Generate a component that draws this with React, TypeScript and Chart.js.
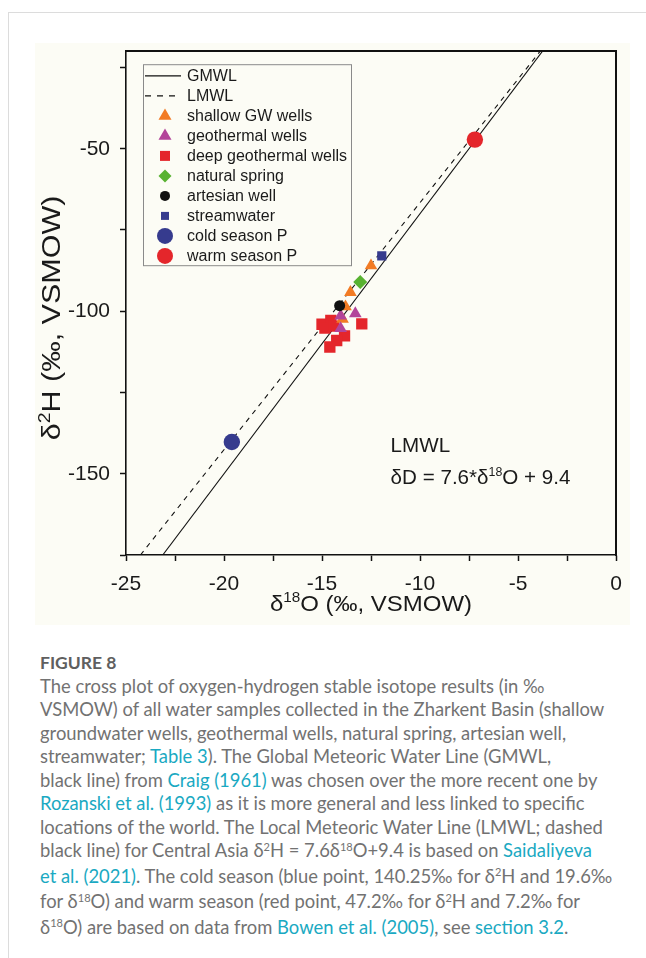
import React, { useEffect, useRef } from 'react';
import { Chart, registerables } from 'chart.js';

Chart.register(...registerables);

const FONT = '"Liberation Sans", Arial, sans-serif';

// ---- data (δ18O, δ2H in ‰ VSMOW) ----
const shallowO = [-12.5, -13.55, -13.8, -13.95];
const shallowH = [-86.0, -94.2, -98.6, -102.4];
const geoO = [-13.3, -14.05, -14.05];
const geoH = [-100.7, -101.4, -105.3];
const deepO = [-15.0, -14.55, -14.85, -14.4, -12.97, -13.85, -14.25, -14.6];
const deepH = [-104.0, -102.8, -105.2, -104.6, -103.9, -107.6, -109.0, -111.0];
const springO = [-13.05];
const springH = [-91.0];
const artesianO = [-14.1];
const artesianH = [-98.3];
const streamO = [-11.95];
const streamH = [-83.0];
const coldO = [-19.6];
const coldH = [-140.25];
const warmO = [-7.2];
const warmH = [-47.2];
const gmwlO = [-23.125, -3.75];
const gmwlH = [-175, -20];
const lmwlO = [-24.263, -3.868];
const lmwlH = [-175, -20];

// axes
const X_MIN = -25;
const X_MAX = 0;
const X_STEP = 2.5;
const X_LABEL_EVERY = 5;
const Y_MIN = -175;
const Y_MAX = -20;
const Y_STEP = 25;
const Y_LABEL_EVERY = 50;

// annotation anchor (data units)
const annotX = -11.5;
const annotY1 = -143.2;
const annotY2 = -153.3;

const ORANGE = '#f27b24';
const PURPLE = '#b3449a';
const RED = '#e4262b';
const GREEN = '#58b231';
const BLACK = '#111111';
const NAVY = '#363b8e';

type LegendItem = { label: string; kind: string; color: string; size: number };
const legendItems: LegendItem[] = [
  { label: 'GMWL', kind: 'line', color: BLACK, size: 0 },
  { label: 'LMWL', kind: 'dash', color: BLACK, size: 0 },
  { label: 'shallow GW wells', kind: 'triangle', color: ORANGE, size: 13 },
  { label: 'geothermal wells', kind: 'triangle', color: PURPLE, size: 13 },
  { label: 'deep geothermal wells', kind: 'square', color: RED, size: 10 },
  { label: 'natural spring', kind: 'diamond', color: GREEN, size: 13 },
  { label: 'artesian well', kind: 'circle', color: BLACK, size: 10 },
  { label: 'streamwater', kind: 'square', color: NAVY, size: 8 },
  { label: 'cold season P', kind: 'circle', color: NAVY, size: 16 },
  { label: 'warm season P', kind: 'circle', color: RED, size: 16 },
];

const toPts = (xs: number[], ys: number[]) => xs.map((x, i) => ({ x, y: ys[i] }));

const pointDs = (label: string, xs: number[], ys: number[], style: string, radius: number, color: string, order: number) => ({
  label,
  data: toPts(xs, ys),
  pointStyle: style,
  pointRadius: radius,
  pointHoverRadius: radius,
  backgroundColor: color,
  borderColor: color,
  borderWidth: 0,
  showLine: false,
  order,
});

type Part = [string, boolean];
function drawRich(ctx: CanvasRenderingContext2D, parts: Part[], x: number, y: number, size: number, align: string, stretch = 1) {
  const supSize = Math.round(size * 0.62);
  const widths = parts.map(([t, sup]) => {
    ctx.font = `${sup ? supSize : size}px ${FONT}`;
    return ctx.measureText(t).width;
  });
  const total = widths.reduce((a, b) => a + b, 0);
  ctx.save();
  ctx.translate(x, y);
  ctx.scale(stretch, 1);
  let cx = align === 'center' ? -total / 2 : 0;
  ctx.textAlign = 'left';
  ctx.textBaseline = 'alphabetic';
  parts.forEach(([t, sup], i) => {
    ctx.font = `${sup ? supSize : size}px ${FONT}`;
    ctx.fillText(t, cx, sup ? -size * 0.4 : 0);
    cx += widths[i];
  });
  ctx.restore();
}

function drawMarker(ctx: CanvasRenderingContext2D, kind: string, x: number, y: number, size: number, color: string) {
  ctx.fillStyle = color;
  ctx.beginPath();
  const h = size / 2;
  if (kind === 'triangle') {
    const r = size / Math.sqrt(3);
    ctx.moveTo(x, y - r);
    ctx.lineTo(x + h, y + r / 2);
    ctx.lineTo(x - h, y + r / 2);
    ctx.closePath();
  } else if (kind === 'square') {
    ctx.rect(x - h, y - h, size, size);
  } else if (kind === 'diamond') {
    ctx.moveTo(x, y - h);
    ctx.lineTo(x + h, y);
    ctx.lineTo(x, y + h);
    ctx.lineTo(x - h, y);
    ctx.closePath();
  } else {
    ctx.arc(x, y, h, 0, Math.PI * 2);
  }
  ctx.fill();
}

const overlayPlugin = {
  id: 'overlay',
  afterDraw(chart: any) {
    const { ctx, chartArea, scales } = chart;
    const left = chartArea.left;
    const top = chartArea.top;
    const right = chartArea.right;
    const bottom = chartArea.bottom;
    ctx.save();
    ctx.setLineDash([]);
    // plot frame (top and right edges)
    ctx.fillStyle = '#111';
    ctx.fillRect(Math.round(left) - 1, Math.round(top) - 1, Math.round(right - left) + 2, 2);
    ctx.fillRect(Math.round(right) - 1, Math.round(top) - 1, 2, Math.round(bottom - top) + 2);

    // legend
    const bx = left + 17;
    const by = top + 13;
    const bw = 208;
    const bh = 201;
    ctx.fillStyle = '#fcfcf5';
    ctx.fillRect(bx, by, bw, bh);
    ctx.strokeStyle = '#8a8a8a';
    ctx.lineWidth = 1;
    ctx.strokeRect(bx + 0.5, by + 0.5, bw, bh);
    legendItems.forEach((it, i) => {
      const cy = by + 11.7 + i * 20;
      if (it.kind === 'line' || it.kind === 'dash') {
        ctx.strokeStyle = it.color;
        ctx.lineWidth = 1.2;
        ctx.setLineDash(it.kind === 'dash' ? [6, 6] : []);
        ctx.beginPath();
        ctx.moveTo(bx + 2, cy);
        ctx.lineTo(bx + 38, cy);
        ctx.stroke();
        ctx.setLineDash([]);
      } else {
        drawMarker(ctx, it.kind, bx + 22, cy, it.size, it.color);
      }
      ctx.fillStyle = '#1a1a1a';
      ctx.font = `16px ${FONT}`;
      ctx.textAlign = 'left';
      ctx.textBaseline = 'middle';
      ctx.fillText(it.label, bx + 44, cy + 0.5);
    });

    // annotation
    const ax = scales.x.getPixelForValue(annotX);
    ctx.fillStyle = '#1a1a1a';
    drawRich(ctx, [['LMWL', false]], ax, scales.y.getPixelForValue(annotY1), 20, 'left', 1.03);
    drawRich(ctx, [['δD = 7.6*δ', false], ['18', true], ['O + 9.4', false]], ax, scales.y.getPixelForValue(annotY2), 20, 'left', 1.03);

    // axis titles
    ctx.fillStyle = '#1a1a1a';
    drawRich(ctx, [['δ', false], ['18', true], ['O (‰, VSMOW)', false]], (left + right) / 2, bottom + 56, 22, 'center', 1.09);
    ctx.save();
    ctx.translate(left - 66, 275);
    ctx.rotate(-Math.PI / 2);
    drawRich(ctx, [['δ', false], ['2', true], ['H (‰, VSMOW)', false]], 0, 0, 25, 'center', 1.22);
    ctx.restore();
    ctx.restore();
  },
};

function ChartCanvas() {
  const ref = useRef<HTMLCanvasElement | null>(null);
  useEffect(() => {
    if (!ref.current) return;
    const tickFont = { size: 21, family: FONT };
    const chart = new Chart(ref.current, {
      type: 'scatter',
      data: {
        datasets: [
          pointDs('warm season P', warmO, warmH, 'circle', 8.2, RED, 0),
          pointDs('cold season P', coldO, coldH, 'circle', 8.2, NAVY, 1),
          pointDs('streamwater', streamO, streamH, 'rect', 6.5, NAVY, 2),
          pointDs('artesian well', artesianO, artesianH, 'circle', 5.5, BLACK, 3),
          pointDs('natural spring', springO, springH, 'rectRot', 7, GREEN, 4),
          pointDs('geothermal wells', geoO, geoH, 'triangle', 7.3, PURPLE, 5),
          pointDs('shallow GW wells', shallowO, shallowH, 'triangle', 7.3, ORANGE, 6),
          pointDs('deep geothermal wells', deepO, deepH, 'rect', 8, RED, 7),
          {
            label: 'GMWL',
            data: toPts(gmwlO, gmwlH),
            showLine: true,
            pointRadius: 0,
            borderColor: BLACK,
            borderWidth: 1.1,
            order: 8,
          },
          {
            label: 'LMWL',
            data: toPts(lmwlO, lmwlH),
            showLine: true,
            pointRadius: 0,
            borderColor: BLACK,
            borderWidth: 1.1,
            borderDash: [5, 5],
            order: 9,
          },
        ] as any,
      },
      options: {
        animation: false,
        responsive: false,
        maintainAspectRatio: false,
        events: [],
        layout: { padding: { top: 5, right: 14, left: 0, bottom: 0 } },
        plugins: {
          legend: { display: false },
          tooltip: { enabled: false },
          title: { display: false },
        },
        scales: {
          x: {
            type: 'linear',
            position: 'bottom',
            min: X_MIN,
            max: X_MAX,
            ticks: {
              stepSize: X_STEP,
              includeBounds: false,
              autoSkip: false,
              maxRotation: 0,
              padding: 11,
              color: '#1a1a1a',
              font: tickFont,
              callback: (v: any) => (Math.abs(Number(v) % X_LABEL_EVERY) < 1e-9 ? String(Number(v)) : ''),
            },
            grid: { drawOnChartArea: false, drawTicks: true, tickLength: 6, tickColor: '#111', tickWidth: 1.5 },
            border: { display: true, color: '#111', width: 1.6 },
            afterFit: (s: any) => {
              s.height = 70;
              s.paddingLeft = 0;
              s.paddingRight = 0;
            },
          },
          y: {
            type: 'linear',
            position: 'left',
            min: Y_MIN,
            max: Y_MAX,
            ticks: {
              stepSize: Y_STEP,
              includeBounds: false,
              autoSkip: false,
              padding: 10,
              color: '#1a1a1a',
              font: tickFont,
              callback: (v: any) => (Math.abs(Number(v) % Y_LABEL_EVERY) < 1e-9 ? String(Number(v)) : ''),
            },
            grid: { drawOnChartArea: false, drawTicks: true, tickLength: 6, tickColor: '#111', tickWidth: 1.5 },
            border: { display: true, color: '#111', width: 1.6 },
            afterFit: (s: any) => {
              s.width = 91;
              s.paddingTop = 0;
              s.paddingBottom = 0;
            },
          },
        },
      } as any,
      plugins: [overlayPlugin],
    });
    return () => chart.destroy();
  }, []);
  return (
    <canvas
      ref={ref}
      width={595}
      height={582}
      style={{ position: 'absolute', left: 35, top: 43, width: 595, height: 582, background: '#fcfcf5' }}
    />
  );
}

const LINK = '#1aa9c2';
const L = ({ children }: { children: React.ReactNode }) => <span style={{ color: LINK }}>{children}</span>;
const S = ({ children }: { children: React.ReactNode }) => (
  <sup style={{ fontSize: '0.6em', verticalAlign: 'baseline', position: 'relative', top: '-0.55em' }}>{children}</sup>
);

export default function App() {
  return (
    <div style={{ position: 'absolute', left: 0, top: 0, width: 646, height: 958, background: '#fff', overflow: 'hidden' }}>
      <div
        style={{
          position: 'absolute',
          left: 8,
          top: 12,
          width: 638,
          height: 946,
          borderLeft: '1px solid #dcdcdc',
          borderTop: '1px solid #dcdcdc',
        }}
      />
      <ChartCanvas />
      <div
        style={{
          position: 'absolute',
          left: 40,
          top: 651,
          fontFamily: 'Lato, "Open Sans", sans-serif',
          fontSize: 18.4,
          lineHeight: '23.5px',
          color: '#727272',
          whiteSpace: 'nowrap',
        }}
      >
        <div style={{ color: '#5f5f5f', fontWeight: 700, fontSize: 17.5 }}>FIGURE 8</div>
        <div>The cross plot of oxygen-hydrogen stable isotope results (in ‰</div>
        <div>VSMOW) of all water samples collected in the Zharkent Basin (shallow</div>
        <div>groundwater wells, geothermal wells, natural spring, artesian well,</div>
        <div>
          streamwater; <L>Table 3</L>). The Global Meteoric Water Line (GMWL,
        </div>
        <div>
          black line) from <L>Craig (1961)</L> was chosen over the more recent one by
        </div>
        <div>
          <L>Rozanski et al. (1993)</L> as it is more general and less linked to specific
        </div>
        <div>locations of the world. The Local Meteoric Water Line (LMWL; dashed</div>
        <div>
          black line) for Central Asia δ<S>2</S>H = 7.6δ<S>18</S>O+9.4 is based on <L>Saidaliyeva</L>
        </div>
        <div>
          <L>et al. (2021)</L>. The cold season (blue point, 140.25‰ for δ<S>2</S>H and 19.6‰
        </div>
        <div>
          for δ<S>18</S>O) and warm season (red point, 47.2‰ for δ<S>2</S>H and 7.2‰ for
        </div>
        <div>
          δ<S>18</S>O) are based on data from <L>Bowen et al. (2005)</L>, see <L>section 3.2</L>.
        </div>
      </div>
    </div>
  );
}
